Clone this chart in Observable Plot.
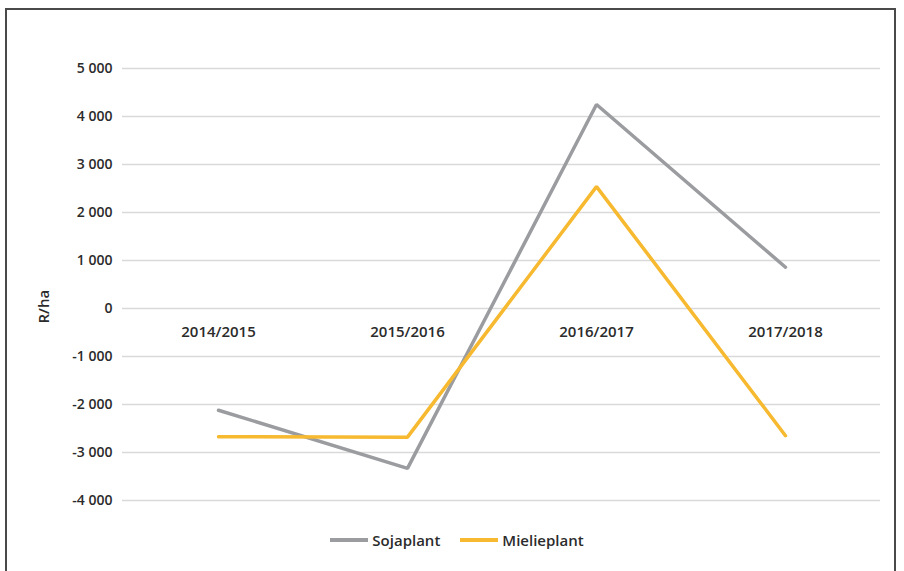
<!DOCTYPE html>
<html>
<head>
<meta charset="utf-8">
<script src="https://cdn.jsdelivr.net/npm/d3@7"></script>
<script src="https://cdn.jsdelivr.net/npm/@observablehq/plot@0.6"></script>
<style>
  html, body { margin: 0; padding: 0; background: #fff; width: 904px; height: 571px; overflow: hidden; }
  #frame { position: absolute; left: 5px; top: 8px; width: 891px; height: 570px; border: 2px solid #4a4a4a; box-sizing: border-box; background: #fff; }
  #chart { position: absolute; left: 0; top: 0; }
  #legend { position: absolute; left: 0; top: 530px; width: 904px; display: flex; justify-content: center; gap: 20px; font-family: "Open Sans", sans-serif; font-size: 15px; font-weight: 600; color: #2b2b2b; padding-left: 10px; box-sizing: border-box; }
  #legend span.item { display: flex; align-items: center; }
  #legend span.sw { display: inline-block; width: 38px; height: 4px; margin-right: 4px; }
</style>
</head>
<body>
<div id="frame"></div>
<div id="chart"></div>
<div id="legend"></div>
<script>
const seasons = ["2014/2015", "2015/2016", "2016/2017", "2017/2018"];
const seriesNames = ["Sojaplant", "Mielieplant"];
const sojaplant = [-2120, -3330, 4250, 860];
const mielieplant = [-2670, -2680, 2540, -2650];
const yTicks = [5000, 4000, 3000, 2000, 1000, 0, -1000, -2000, -3000, -4000];
const colors = ["#9b9c9f", "#f6b92f"];

const data = [];
seasons.forEach((s, i) => {
  data.push({season: s, series: seriesNames[0], value: sojaplant[i]});
  data.push({season: s, series: seriesNames[1], value: mielieplant[i]});
});

const fmt = n => (n < 0 ? "-" : "") + d3.format(",")(Math.abs(n)).replace(/,/g, " ");

const chart = Plot.plot({
  width: 904,
  height: 520,
  marginTop: 68,
  marginBottom: 20,
  marginLeft: 122,
  marginRight: 24,
  style: {fontFamily: "'Open Sans', sans-serif", fontSize: "14px", color: "#2b2b2b", background: "transparent"},
  x: {type: "point", domain: seasons, padding: 0.5, axis: null},
  y: {domain: [-4000, 5000], ticks: yTicks, tickFormat: fmt, label: null, tickSize: 0, tickPadding: 10},
  color: {domain: seriesNames, range: colors},
  marks: [
    Plot.ruleY(yTicks, {stroke: "#d9d9d9", strokeWidth: 1.5}),
    Plot.axisY({ticks: yTicks, tickFormat: fmt, tickSize: 0, tickPadding: 10, fontSize: 14, fontWeight: 600, label: null}),
    Plot.text(seasons, {x: d => d, y: 0, dy: 24, text: d => d, fontSize: 15, fontWeight: 600, fill: "#2b2b2b"}),
    Plot.line(data, {x: "season", y: "value", z: "series", stroke: "series", strokeWidth: 3.5, strokeLinejoin: "miter", strokeLinecap: "round"}),
    Plot.text(["R/ha"], {frameAnchor: "left", y: () => 0, text: d => d, rotate: -90, dx: -78, dy: 15, fontSize: 15, fontWeight: 600, fill: "#2b2b2b"})
  ]
});
document.getElementById("chart").appendChild(chart);

const legend = document.getElementById("legend");
seriesNames.forEach((name, i) => {
  const item = document.createElement("span");
  item.className = "item";
  const sw = document.createElement("span");
  sw.className = "sw";
  sw.style.background = colors[i];
  item.appendChild(sw);
  item.appendChild(document.createTextNode(name));
  legend.appendChild(item);
});
</script>
</body>
</html>
